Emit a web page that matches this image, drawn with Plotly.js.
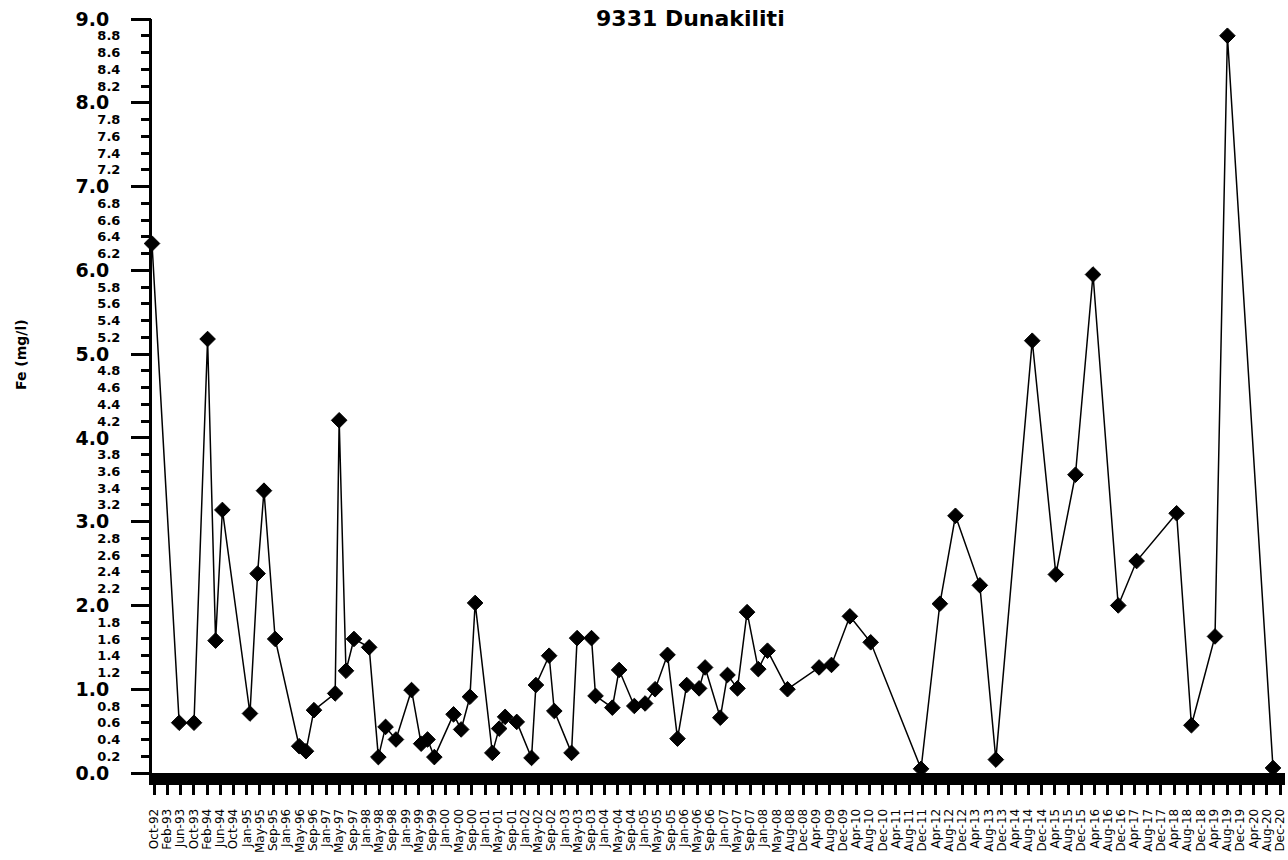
<!DOCTYPE html>
<html>
<head>
<meta charset="utf-8">
<script src="https://cdn.plot.ly/plotly-3.0.1.min.js"></script>
<style>
  html, body { margin: 0; padding: 0; background: #fff; }
  #chart { width: 1288px; height: 860px; }
</style>
</head>
<body>
<div id="chart"></div>
<script>
// ---- data ----
const chartTitle = "9331 Dunakiliti";
const yAxisTitle = "Fe (mg/l)";

const xTickLabels = [
  "Oct-92","Feb-93","Jun-93","Oct-93","Feb-94","Jun-94","Oct-94",
  "Jan-95","May-95","Sep-95","Jan-96","May-96","Sep-96","Jan-97","May-97","Sep-97",
  "Jan-98","May-98","Sep-98","Jan-99","May-99","Sep-99","Jan-00","May-00","Sep-00",
  "Jan-01","May-01","Sep-01","Jan-02","May-02","Sep-02","Jan-03","May-03","Sep-03",
  "Jan-04","May-04","Sep-04","Jan-05","May-05","Sep-05","Jan-06","May-06","Sep-06",
  "Jan-07","May-07","Sep-07","Jan-08","May-08","Aug-08","Dec-08",
  "Apr-09","Aug-09","Dec-09","Apr-10","Aug-10","Dec-10","Apr-11","Aug-11","Dec-11",
  "Apr-12","Aug-12","Dec-12","Apr-13","Aug-13","Dec-13","Apr-14","Aug-14","Dec-14",
  "Apr-15","Aug-15","Dec-15","Apr-16","Aug-16","Dec-16","Apr-17","Aug-17","Dec-17",
  "Apr-18","Aug-18","Dec-18","Apr-19","Aug-19","Dec-19","Apr-20","Aug-20","Dec-20"
];

// sampling dates as decimal years
const sampleYears = [
  1992.72, 1993.40, 1993.77, 1994.11, 1994.31, 1994.48, 1995.17, 1995.36, 1995.52, 1995.80,
  1996.40, 1996.57, 1996.77, 1997.30, 1997.40, 1997.57, 1997.77, 1998.15, 1998.38, 1998.56,
  1998.82, 1999.21, 1999.45, 1999.61, 1999.78, 2000.26, 2000.45, 2000.67, 2000.80, 2001.23,
  2001.40, 2001.55, 2001.84, 2002.21, 2002.32, 2002.65, 2002.78, 2003.21, 2003.35, 2003.71,
  2003.81, 2004.23, 2004.40, 2004.78, 2005.05, 2005.30, 2005.61, 2005.86, 2006.09, 2006.40,
  2006.55, 2006.93, 2007.11, 2007.36, 2007.60, 2007.88, 2008.11, 2008.61, 2009.40, 2009.71,
  2010.17, 2010.69, 2011.95, 2012.42, 2012.81, 2013.42, 2013.82, 2014.73, 2015.32, 2015.81,
  2016.25, 2016.88, 2017.34, 2018.34, 2018.71, 2019.30, 2019.61, 2020.75
];

// Fe concentration (mg/l)
const feValues = [
  6.32, 0.60, 0.60, 5.18, 1.58, 3.14, 0.71, 2.38, 3.37, 1.60,
  0.32, 0.26, 0.75, 0.95, 4.21, 1.22, 1.60, 1.50, 0.19, 0.55,
  0.40, 0.99, 0.35, 0.40, 0.19, 0.70, 0.52, 0.91, 2.03, 0.24,
  0.53, 0.67, 0.61, 0.18, 1.05, 1.40, 0.74, 0.24, 1.61, 1.61,
  0.92, 0.78, 1.23, 0.80, 0.83, 1.00, 1.41, 0.41, 1.05, 1.01,
  1.26, 0.66, 1.17, 1.01, 1.92, 1.24, 1.46, 1.00, 1.26, 1.29,
  1.87, 1.56, 0.05, 2.02, 3.07, 2.24, 0.16, 5.16, 2.37, 3.56,
  5.95, 2.00, 2.53, 3.10, 0.57, 1.63, 8.80, 0.06
];

// ---- axis tick construction ----
const TICK0 = 1992.77;            // position of first labelled tick (Oct-92)
const TICK_STEP = 121 / 365.25;   // ticks about every 121 days
const xTickVals = xTickLabels.map((_, i) => TICK0 + i * TICK_STEP);

const minorVals = [], minorText = [];
for (let k = 0; k <= 45; k++) {
  if (k % 5 === 0) continue;
  const v = k / 5;
  minorVals.push(v);
  minorText.push(v.toFixed(1));
}
const majorVals = [], majorText = [];
for (let k = 0; k <= 9; k++) { majorVals.push(k); majorText.push(k.toFixed(1)); }

const FONT = "DejaVu Sans, Liberation Sans, Arial, sans-serif";

const traces = [
  {
    type: "scatter",
    mode: "lines+markers",
    x: sampleYears,
    y: feValues,
    line: { color: "#000", width: 1.5 },
    marker: { symbol: "diamond", size: 12, color: "#000", line: { color: "#000", width: 1 } },
    cliponaxis: false,
    showlegend: false,
    hoverinfo: "x+y"
  },
  { type: "scatter", x: [], y: [], yaxis: "y2", showlegend: false, hoverinfo: "skip" },
  { type: "scatter", x: [], y: [], yaxis: "y3", showlegend: false, hoverinfo: "skip" }
];

const layout = {
  width: 1288,
  height: 860,
  paper_bgcolor: "#fff",
  plot_bgcolor: "#fff",
  margin: { l: 152, r: 3, t: 19, b: 87, pad: 0 },
  showlegend: false,
  title: {
    text: "<b>" + chartTitle + "</b>",
    font: { family: FONT, size: 22, color: "#000" },
    xref: "container", yref: "container",
    x: 0.536, y: 0.979, xanchor: "center", yanchor: "middle"
  },
  xaxis: {
    type: "linear",
    range: [1992.72, 2021.05],
    tickmode: "array",
    tickvals: xTickVals,
    ticktext: xTickLabels,
    tickangle: -90,
    ticks: "outside",
    ticklen: 10,
    tickwidth: 3,
    tickcolor: "#000",
    showline: true,
    linewidth: 12,
    linecolor: "#000",
    showgrid: false,
    zeroline: false,
    automargin: false,
    ticklabelstandoff: 9,
    tickfont: { family: FONT, size: 12, color: "#000" }
  },
  yaxis: {
    range: [0, 9],
    showticklabels: false,
    ticks: "",
    showline: true,
    linewidth: 3,
    linecolor: "#000",
    showgrid: false,
    zeroline: false,
    automargin: false
  },
  yaxis2: {
    overlaying: "y",
    anchor: "x",
    side: "left",
    range: [0, 9],
    tickmode: "array",
    tickvals: majorVals,
    ticktext: majorText,
    ticks: "outside",
    ticklen: 20,
    tickwidth: 3,
    tickcolor: "#000",
    showline: false,
    showgrid: false,
    zeroline: false,
    automargin: false,
    ticklabelstandoff: 18,
    tickfont: { family: FONT, size: 19, color: "#000", weight: "bold" }
  },
  yaxis3: {
    overlaying: "y",
    anchor: "x",
    side: "left",
    range: [0, 9],
    tickmode: "array",
    tickvals: minorVals,
    ticktext: minorText,
    ticks: "outside",
    ticklen: 10,
    tickwidth: 3,
    tickcolor: "#000",
    showline: false,
    showgrid: false,
    zeroline: false,
    automargin: false,
    ticklabelstandoff: 18,
    tickfont: { family: FONT, size: 13, color: "#000", weight: "bold" }
  },
  annotations: [
    {
      text: "<b>" + yAxisTitle + "</b>",
      textangle: -90,
      xref: "paper", yref: "paper",
      x: (21 - 152) / 1133, y: (773 - 355) / 754,
      xanchor: "center", yanchor: "middle",
      showarrow: false,
      font: { family: FONT, size: 14, color: "#000" }
    }
  ]
};

Plotly.newPlot("chart", traces, layout, { staticPlot: true, displayModeBar: false });
</script>
</body>
</html>
